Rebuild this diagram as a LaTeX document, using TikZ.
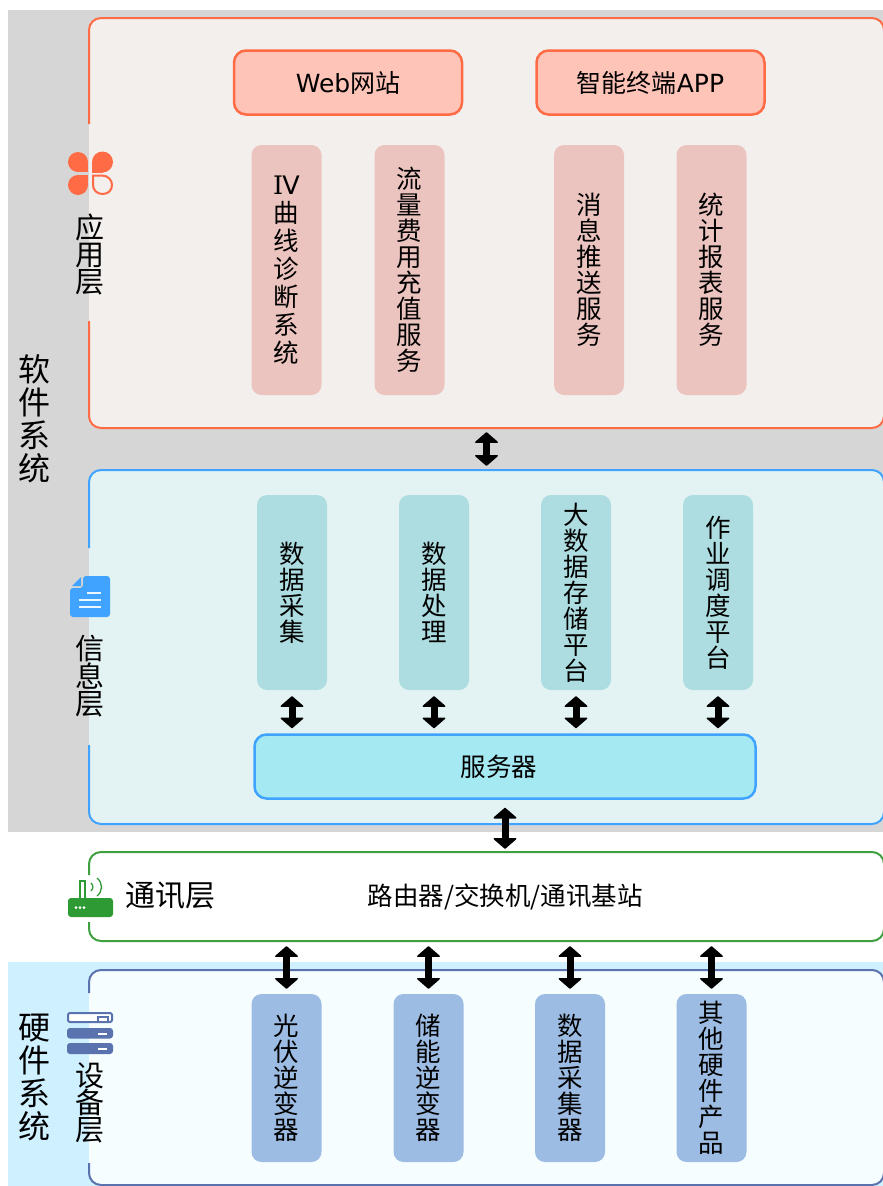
\documentclass[tikz,border=0pt]{standalone}
\usepackage{fontspec}
\setmainfont{DejaVu Sans}
\newfontfamily\cjk{Noto Sans CJK SC}
\newfontfamily\dserif{DejaVu Serif}
\usetikzlibrary{arrows.meta,calc}
\definecolor{graybg}{HTML}{D6D6D6}
\definecolor{hwbg}{HTML}{CFF0FF}
\definecolor{orangeln}{HTML}{FF6B45}
\definecolor{appfill}{HTML}{F3EFEC}
\definecolor{webfill}{HTML}{FFC4B8}
\definecolor{pinkfill}{HTML}{ECC4BF}
\definecolor{blueln}{HTML}{3FA3FF}
\definecolor{infofill}{HTML}{E3F3F3}
\definecolor{tealfill}{HTML}{ADDDE1}
\definecolor{srvfill}{HTML}{A5E9F3}
\definecolor{greenln}{HTML}{3FA040}
\definecolor{greenic}{HTML}{2E9A33}
\definecolor{navyln}{HTML}{5A72AD}
\definecolor{devfill}{HTML}{F5FDFF}
\definecolor{hwfill}{HTML}{9CBCE3}
\tikzset{
  layerfill/.style={rectangle,rounded corners=12pt,draw=none,inner sep=0pt},
  layerline/.style={line width=2pt,rounded corners=12pt},
  topbox/.style={rectangle,rounded corners=12pt,draw=orangeln,line width=2.5pt,fill=webfill,minimum width=228pt,minimum height=64pt,inner sep=0pt,font=\fontsize{25}{26}\selectfont},
  tallbox/.style={rectangle,rounded corners=10pt,draw=none,minimum width=70pt,inner sep=0pt,align=center,font=\cjk\fontsize{25.5}{26}\selectfont},
  pinkbox/.style={tallbox,fill=pinkfill,minimum height=250pt},
  tealbox/.style={tallbox,fill=tealfill,minimum height=195pt},
  hwbox/.style={tallbox,fill=hwfill,minimum height=168pt},
  srvbox/.style={rectangle,rounded corners=12pt,draw=blueln,line width=2.5pt,fill=srvfill,minimum width=501pt,minimum height=64pt,inner sep=0pt},
  layerlabel/.style={align=center,inner sep=0pt,font=\cjk\fontsize{29}{27}\selectfont},
  syslabel/.style={align=center,inner sep=0pt,font=\cjk\fontsize{32}{33}\selectfont},
  plainlabel/.style={inner sep=0pt,font=\cjk\fontsize{25.5}{26}\selectfont},
  biarrow/.style={line width=7pt,{Triangle[width=25pt,length=11pt,round,line width=1.5pt]}-{Triangle[width=25pt,length=11pt,round,line width=1.5pt]}}
}
\begin{document}
\begin{tikzpicture}[x=1pt,y=-1pt]
\useasboundingbox (0,0) rectangle (883,1186);
\clip (0,0) rectangle (883,1186);
% backgrounds
\fill[graybg] (8,10) rectangle (883,832);
\fill[hwbg] (8,962) rectangle (883,1186);
% layers
\node[layerfill,fill=appfill,minimum width=795pt,minimum height=410pt] (app) at (486.5,223) {};
\node[layerfill,fill=infofill,minimum width=795pt,minimum height=354pt] (info) at (486.5,647) {};
\node[layerfill,fill=white,minimum width=795pt,minimum height=89pt] (comm) at (486.5,896.5) {};
\node[layerfill,fill=devfill,minimum width=795pt,minimum height=215pt] (dev) at (486.5,1077.5) {};
\draw[layerline,draw=orangeln] (89,124) -- (89,18) -- (884,18) -- (884,428) -- (89,428) -- (89,321);
\draw[layerline,draw=blueln] (89,548) -- (89,470) -- (884,470) -- (884,824) -- (89,824) -- (89,745);
\draw[layerline,draw=greenln] (89,875) -- (89,852) -- (884,852) -- (884,941) -- (89,941) -- (89,922);
\draw[layerline,draw=navyln] (89,993) -- (89,970) -- (884,970) -- (884,1185) -- (89,1185) -- (89,1163);
% system labels
\node[syslabel] (soft) at (34,419) {软\\件\\系\\统};
\node[syslabel] (hard) at (34,1077) {硬\\件\\系\\统};
% layer labels
\node[layerlabel] (lapp) at (89.5,254) {应\\用\\层};
\node[layerlabel] (linfo) at (89.5,676) {信\\息\\层};
\node[layerlabel] (ldev) at (89.5,1103) {设\\备\\层};
\node[inner sep=0pt,font=\cjk\fontsize{30}{30}\selectfont] (lcomm) at (170,896) {通讯层};
% app contents
\node[topbox] (web) at (348,82.5) {{Web}{\cjk 网站}};
\node[topbox] (appt) at (650.5,82.5) {{\cjk 智能终端}APP};
\node[pinkbox,font=\cjk\fontsize{25.5}{28}\selectfont] (p1) at (286.5,270) {{\fontspec{DejaVu Sans}{\dserif I}\kern-1pt V}\\曲\\线\\诊\\断\\系\\统};
\node[pinkbox] (p2) at (409.5,270) {流\\量\\费\\用\\充\\值\\服\\务};
\node[pinkbox] (p3) at (589,270) {消\\息\\推\\送\\服\\务};
\node[pinkbox] (p4) at (711.5,270) {统\\计\\报\\表\\服\\务};
% info contents
\node[tealbox] (t1) at (292,592.5) {数\\据\\采\\集};
\node[tealbox] (t2) at (434,592.5) {数\\据\\处\\理};
\node[tealbox] (t3) at (576,592.5) {大\\数\\据\\存\\储\\平\\台};
\node[tealbox] (t4) at (718,592.5) {作\\业\\调\\度\\平\\台};
\node[srvbox] (srv) at (505,766.5) {};
\node[plainlabel] (srvt) at (499,767) {服务器};
% comm text
\node[plainlabel] (commt) at (505,897) {路由器/交换机/通讯基站};
% hardware contents
\node[hwbox] (h1) at (286.5,1078) {光\\伏\\逆\\变\\器};
\node[hwbox] (h2) at (428.5,1078) {储\\能\\逆\\变\\器};
\node[hwbox] (h3) at (570,1078) {数\\据\\采\\集\\器};
\node[hwbox] (h4) at (711.5,1078) {其\\他\\硬\\件\\产\\品};
% connectors
\draw[biarrow,shorten <=4pt,shorten >=4pt] (app.south) -- (info.north);
\foreach \t in {t1,t2,t3,t4}
  \draw[biarrow,shorten <=6pt,shorten >=5pt] (\t.south) -- (\t.south |- srv.north);
\draw[biarrow,shorten <=8pt,shorten >=3pt] (srv.south) -- (srv.south |- comm.north);
\foreach \h in {h1,h2,h3,h4}
  \draw[biarrow,shorten <=5pt,shorten >=5pt] (\h.north |- comm.south) -- (\h.north);
% flower icon
\fill[orangeln] (78,162) circle[radius=10pt];
\fill[orangeln] (78,162) rectangle (88,172);
\fill[orangeln] (102.5,162) circle[radius=10.5pt];
\fill[orangeln] (102.5,162) rectangle (92,172.5);
\fill[orangeln] (78,185) circle[radius=10pt];
\fill[orangeln] (78,185) rectangle (88,175);
\draw[orangeln,line width=2pt] (93,175.5) -- (102,175.5) .. controls (108,175.5) and (112,180) .. (112,185) .. controls (112,190.5) and (108,194) .. (102.5,194) .. controls (97,194) and (93,190) .. (93,185) -- cycle;
% doc icon
\fill[blueln,rounded corners=3pt] (83,576) -- (110,576) -- (110,617) -- (70,617) -- (70,588) -- (83,588) -- cycle;
\fill[blueln] (72,586) -- (81,586) -- (81,577) -- cycle;
\draw[white!90!blueln,line width=1.5pt] (87,593) -- (101,593) (79,600) -- (101,600) (79,607) -- (101,607);
% router icon
\fill[greenic,rounded corners=3pt] (68,898) rectangle (113,917);
\draw[greenic,line width=2pt] (80,898) -- (80,881) -- (85,881) -- (85,898);
\fill[white] (76,907.5) circle[radius=1.5pt] (80,907.5) circle[radius=1.5pt] (84,907.5) circle[radius=1.5pt];
\draw[greenic,line width=1.3pt] (91,883) .. controls (93.5,885.5) and (93.5,888.5) .. (91,891);
\draw[greenic,line width=1.3pt] (97,878) .. controls (103,883) and (103,891) .. (97,896);
% server icon
\draw[navyln,fill=white,line width=2pt,rounded corners=2pt] (68,1013) rectangle (112,1022);
\draw[navyln,line width=1.5pt] (98,1017) rectangle (108,1022);
\fill[navyln,rounded corners=3pt] (67,1028) rectangle (113,1038.5);
\fill[navyln,rounded corners=3pt] (67,1043) rectangle (113,1054);
\fill[white] (98,1032.5) rectangle (107,1034.5);
\fill[white] (98,1048) rectangle (107,1050);
\end{tikzpicture}
\end{document}
